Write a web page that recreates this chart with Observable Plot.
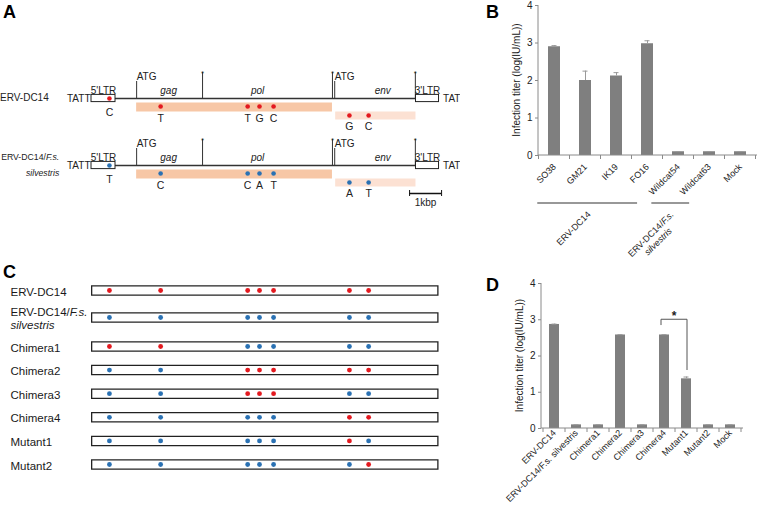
<!DOCTYPE html>
<html><head><meta charset="utf-8">
<script src="https://cdn.jsdelivr.net/npm/d3@7"></script>
<script src="https://cdn.jsdelivr.net/npm/@observablehq/plot@0.6"></script>
<style>
body{margin:0;background:#fff;}
#fig{position:relative;width:760px;height:513px;overflow:hidden;background:#fff;font-family:"Liberation Sans",Arial,sans-serif;}
.panel{position:absolute;}
.letter{position:absolute;font-weight:bold;font-size:18px;line-height:18px;color:#000;}
</style></head><body>
<div id="fig">
  <div class="panel" id="pA" style="left:0;top:0;width:460px;height:215px;overflow:hidden"></div>
  <div class="panel" id="pB" style="left:470px;top:0;width:290px;height:268px"></div>
  <div class="panel" id="pC" style="left:0;top:255px;width:460px;height:230px"></div>
  <div class="panel" id="pD" style="left:470px;top:270px;width:290px;height:243px"></div>
  <div class="letter" style="left:3px;top:3px">A</div>
  <div class="letter" style="left:486px;top:3px">B</div>
  <div class="letter" style="left:3px;top:263px">C</div>
  <div class="letter" style="left:486px;top:276px">D</div>
</div>
<script>
// ================= DATA =================
const RED = "#e3191f", BLUE = "#2a71b3";
// Panel A: genome map, positions in kbp from the start of the 5'LTR
const genomeRows = ["ERV-DC14", "ERV-DC14/F.s.\nsilvestris"];
const ltrNames = ["5'LTR", "3'LTR"];
const ltrStart = [0, 10.14];
const ltrEnd = [0.75, 10.86];
const geneNames = ["gag", "pol", "env"];
const geneStart = [1.41, 3.47, 7.60];
const geneEnd = [3.47, 7.53, 10.12];
const geneLabelKb = [2.41, 5.19, 9.10];
const geneHasATG = [true, false, true];
const orfNames = ["gag-pol", "env"];
const orfStart = [1.41, 7.63];
const orfEnd = [7.53, 10.14];
const snpKb = [0.56, 2.16, 4.88, 5.25, 5.69, 8.06, 8.66];
const snpRegion = ["LTR", "gag-pol", "gag-pol", "gag-pol", "gag-pol", "env", "env"];
const dc14Bases = ["C", "T", "T", "G", "C", "G", "C"];
const silvestrisBases = ["T", "C", "C", "A", "T", "A", "T"];
const scaleBarKb = 1;
const scaleBarLabel = "1kbp";
// Panel B
const bStrains = ["SO38", "GM21", "IK19", "FO16", "Wildcat54", "Wildcat63", "Mock"];
const bTiter = [2.90, 2.00, 2.12, 2.98, 0.10, 0.10, 0.10];
const bError = [0.03, 0.25, 0.09, 0.08, 0.004, 0.004, 0.004];
const bGroupNames = ["ERV-DC14", "ERV-DC14/F.s.\nsilvestris"];
const bGroupFirst = ["SO38", "Wildcat54"];
const bGroupLast = ["FO16", "Wildcat63"];
// Panel C
const constructs = ["ERV-DC14", "ERV-DC14/F.s.\nsilvestris", "Chimera1", "Chimera2", "Chimera3", "Chimera4", "Mutant1", "Mutant2"];
const constructOrigin = ["DDDDDDD", "SSSSSSS", "DDSSSSS", "SSDDDDD", "SSDDDSS", "SSSSSDD", "SSSSSDS", "SSSSSSD"];
// Panel D
const dConstructs = ["ERV-DC14", "ERV-DC14/F.s. silvestris", "Chimera1", "Chimera2", "Chimera3", "Chimera4", "Mutant1", "Mutant2", "Mock"];
const dTiter = [2.87, 0.10, 0.10, 2.58, 0.10, 2.58, 1.37, 0.10, 0.10];
const dError = [0.01, 0.004, 0.004, 0.01, 0.004, 0.01, 0.05, 0.004, 0.004];
const sigPair = ["Chimera4", "Mutant1"];
const sigLabel = "*";
const yLabel = "Infection titer (log(IU/mL))";

// ================= HELPERS =================
const FONT = '"Liberation Sans", Arial, sans-serif';
const ITAL = /(F\.s\.|silvestris)/;
const ctx = document.createElement("canvas").getContext("2d");
function textWidth(s, size) { ctx.font = `${size}px ${FONT}`; return ctx.measureText(s).width; }
function appendItalic(sel, str) {
  str.split(ITAL).forEach(p => {
    if (!p) return;
    const t = sel.append("tspan").text(p);
    const m = p.match(ITAL);
    if (m && m[0] === p) t.attr("font-style", "italic");
  });
}
function italicize(root) {
  root.querySelectorAll("text, tspan").forEach(el => {
    if (el.children.length) return;
    const s = el.textContent;
    if (!ITAL.test(s)) return;
    el.textContent = "";
    appendItalic(d3.select(el), s);
  });
}
const bandwidthOf = s => typeof s.bandwidth === "function" ? s.bandwidth() : (+s.bandwidth || 0);

// ================= PANEL A =================
const PXA = 1 / 67;
const rowsA = genomeRows.map((name, i) => ({name, row: i, color: i ? BLUE : RED, bases: i ? silvestrisBases : dc14Bases}));
const ltrA = rowsA.flatMap(r => ltrNames.map((n, j) => ({row: r.row, name: n, x1: ltrStart[j], x2: ltrEnd[j]})));
const orfA = rowsA.flatMap(r => orfNames.map((n, j) => ({row: r.row, name: n, x1: orfStart[j], x2: orfEnd[j]})));
const geneA = rowsA.flatMap(r => geneNames.map((n, j) => ({row: r.row, name: n, at: geneLabelKb[j]})));
const atgA = rowsA.flatMap(r => geneNames.map((n, j) => ({row: r.row, kb: geneStart[j], ok: geneHasATG[j]})).filter(d => d.ok));
const stopA = rowsA.flatMap(r => geneEnd.map(kb => ({row: r.row, kb})));
const snpA = rowsA.flatMap(r => snpKb.map((kb, j) => ({row: r.row, kb, region: snpRegion[j], base: r.bases[j], color: r.color})));
const dotDy = {"LTR": 0, "gag-pol": 8, "env": 17};
const baseDy = {"LTR": 14, "gag-pol": 20, "env": 28};
const sb = [{row: 1, x1: ltrStart[1] - 0.2, x2: ltrStart[1] - 0.2 + scaleBarKb}];
const xDomainA = [-2.844, 11.531];

const plotA = Plot.plot({
  width: 460, height: 215, margin: 0,
  style: {background: "transparent", fontFamily: FONT, color: "#222"},
  x: {domain: xDomainA, range: [0, 460], axis: null},
  y: {domain: [0, 1], range: [98, 165], axis: null},
  color: {type: "identity"},
  marks: [
    Plot.ruleY(rowsA, {y: "row", x1: () => ltrEnd[0], x2: () => ltrStart[1], stroke: "#333", strokeWidth: 1.3}),
    Plot.ruleY(orfA.filter(d => d.name === "gag-pol"), {y: "row", x1: "x1", x2: "x2", dy: 8.5, stroke: "#f7c7a6", strokeWidth: 9}),
    Plot.ruleY(orfA.filter(d => d.name === "env"), {y: "row", x1: "x1", x2: "x2", dy: 17, stroke: "#fce1d3", strokeWidth: 8}),
    Plot.ruleX(atgA, {x: "kb", y1: "row", y2: d => d.row - 17 * PXA, stroke: "#333", strokeWidth: 1}),
    Plot.ruleX(stopA, {x: "kb", y1: "row", y2: d => d.row - 26 * PXA, stroke: "#333", strokeWidth: 1}),
    Plot.rect(ltrA, {x1: "x1", x2: "x2", y1: d => d.row - 3.6 * PXA, y2: d => d.row + 3.6 * PXA, fill: "white", stroke: "#222", strokeWidth: 1}),
    Plot.dot(snpA, {x: "kb", y: d => d.row + dotDy[d.region] * PXA, r: 2.3, fill: "color", stroke: null}),
    Plot.text(snpA, {x: "kb", y: d => d.row + baseDy[d.region] * PXA, text: "base", fontSize: 10.5, fill: "#222"}),
    Plot.text(ltrA, {x: d => (d.x1 + d.x2) / 2, y: d => d.row - 8 * PXA, text: "name", fontSize: 10, fill: "#222"}),
    Plot.text(geneA, {x: "at", y: d => d.row - 8 * PXA, text: "name", fontSize: 10, fontStyle: "italic", fill: "#222"}),
    Plot.text(atgA, {x: "kb", y: d => d.row - 22 * PXA, text: () => "ATG", textAnchor: "start", fontSize: 10, fill: "#222"}),
    Plot.text(stopA, {x: "kb", y: d => d.row - 25 * PXA, text: () => "*", fontSize: 8, fill: "#222"}),
    Plot.text(rowsA, {x: () => ltrStart[0], y: "row", text: () => "TATT", textAnchor: "end", dx: -1, fontSize: 10, fill: "#222"}),
    Plot.text(rowsA, {x: () => ltrEnd[1], y: "row", text: () => "TAT", textAnchor: "start", dx: 4, fontSize: 10, fill: "#222"}),
    Plot.ruleY(sb, {y: "row", x1: "x1", x2: "x2", dy: 28, stroke: "#111", strokeWidth: 1.6}),
    Plot.ruleX(sb.flatMap(d => [{row: d.row, kb: d.x1}, {row: d.row, kb: d.x2}]), {x: "kb", y1: d => d.row + 25 * PXA, y2: d => d.row + 31 * PXA, stroke: "#111"}),
    Plot.text(sb, {x: d => (d.x1 + d.x2) / 2, y: d => d.row + 37 * PXA, text: () => scaleBarLabel, fontSize: 10, fill: "#222"}),
    (index, {x, y}) => {
      const g = d3.create("svg:g").attr("font-size", 10).attr("fill", "#222");
      const left = x(xDomainA[0]);
      g.append("text").attr("x", left).attr("y", y(0)).attr("dy", "0.32em").attr("text-anchor", "start").text(genomeRows[0]);
      const [l1, l2] = genomeRows[1].split("\n");
      const fs = 8.7;
      const right = left + 1 + textWidth(l1, fs);
      const t = g.append("text").attr("font-size", fs).attr("text-anchor", "end");
      const s1 = t.append("tspan").attr("x", right).attr("y", y(1) - 8).attr("dy", "0.32em");
      appendItalic(s1, l1);
      const s2 = t.append("tspan").attr("x", right).attr("y", y(1) + 8).attr("dy", "0.32em");
      appendItalic(s2, l2);
      return g.node();
    }
  ]
});
document.getElementById("pA").append(plotA);

// ================= PANEL B =================
const bData = bStrains.map((s, i) => ({s, v: bTiter[i], e: bError[i]}));
function axisDecor(cats) {
  return (index, {x, y}, values, dims) => {
    const g = d3.create("svg:g");
    const lines = g.append("g").attr("stroke", "#8a8a8a").attr("fill", "none");
    const bw = bandwidthOf(x);
    const c = cats.map(k => x(k) + bw / 2);
    const step = c[1] - c[0];
    const y0 = y(0);
    const xl = dims.marginLeft, xr = dims.width - dims.marginRight;
    lines.append("line").attr("x1", xl).attr("x2", xr).attr("y1", y0).attr("y2", y0);
    lines.append("line").attr("x1", xl).attr("x2", xl).attr("y1", dims.marginTop).attr("y2", y0);
    for (let k = 0; k <= cats.length; k++) {
      const xb = c[0] - step / 2 + k * step;
      lines.append("line").attr("x1", xb).attr("x2", xb).attr("y1", y0).attr("y2", y0 + 4);
    }
    g.append("text").attr("transform", `translate(${xl - 18},${(dims.marginTop + y0) / 2}) rotate(-90)`)
      .attr("text-anchor", "middle").attr("font-size", 10).attr("fill", "#222").text(yLabel);
    return g.node();
  };
}
const groupInset = [[-0.54, -0.32], [-0.86, -0.64]];
function groupDecor() {
  return (index, {x, y}) => {
    const g = d3.create("svg:g");
    const bw = bandwidthOf(x);
    const cx = k => x(k) + bw / 2;
    const step = cx(bStrains[1]) - cx(bStrains[0]);
    const ly = y(0) + 48;
    bGroupNames.forEach((name, i) => {
      const x1 = cx(bGroupFirst[i]) + groupInset[i][0] * step;
      const x2 = cx(bGroupLast[i]) + groupInset[i][1] * step;
      g.append("line").attr("x1", x1).attr("x2", x2).attr("y1", ly).attr("y2", ly).attr("stroke", "#333").attr("stroke-width", 1.2);
      const lines = name.split("\n");
      const L1 = textWidth(lines[0], 9);
      const ex = (x1 + x2) / 2 + 4, ey = ly + 12;
      const ox = ex - 0.7071 * L1 / 2, oy = ey + 0.7071 * L1 / 2;
      const t = g.append("text").attr("transform", `translate(${ox},${oy}) rotate(-45)`)
        .attr("text-anchor", "middle").attr("font-size", 9).attr("fill", "#222");
      lines.forEach((ln, j) => {
        const ts = t.append("tspan").attr("x", 0).attr("dy", j ? "1.15em" : 0);
        appendItalic(ts, ln);
      });
    });
    return g.node();
  };
}
const plotB = Plot.plot({
  width: 290, height: 268, marginLeft: 68, marginRight: 3, marginTop: 5, marginBottom: 113,
  style: {background: "transparent", fontFamily: FONT, overflow: "visible", color: "#222"},
  x: {domain: bStrains, paddingInner: 0.6, paddingOuter: 0.3},
  y: {domain: [0, 4]},
  marks: [
    Plot.barY(bData, {x: "s", y: "v", fill: "#7f7f7f"}),
    Plot.ruleX(bData, {x: "s", y1: "v", y2: d => d.v + d.e, stroke: "#9a9a9a"}),
    Plot.tickY(bData, {x: "s", y: d => d.v + d.e, stroke: "#9a9a9a", inset: 3.5}),
    axisDecor(bStrains),
    Plot.axisY({ticks: [0, 1, 2, 3, 4], tickFormat: d3.format("d"), tickSize: 3, tickPadding: 3, fontSize: 10, stroke: "#8a8a8a", fill: "#222", label: null}),
    Plot.axisX({tickSize: 0, tickRotate: -45, tickPadding: 10, fontSize: 9, fill: "#222", label: null}),
    groupDecor()
  ]
});
document.getElementById("pB").append(plotB);

// ================= PANEL C =================
// rows after the first two are evenly spaced; the first two get extra room for the two-line label
const rowPos = i => i + 0.144 * Math.min(i, 1) + (i >= 2 ? 0.229 : 0);
const cRows = constructs.map((c, i) => ({c, i}));
const cDots = constructs.flatMap((c, i) => snpKb.map((kb, j) => ({i, kb, color: constructOrigin[i][j] === "D" ? RED : BLUE})));
const plotC = Plot.plot({
  width: 460, height: 230, margin: 0,
  style: {background: "transparent", fontFamily: FONT, color: "#222"},
  x: {domain: xDomainA, range: [0, 460], axis: null},
  y: {domain: [0, rowPos(constructs.length - 1)], range: [35, 209], axis: null},
  color: {type: "identity"},
  marks: [
    Plot.ruleY(cRows, {y: d => rowPos(d.i), x1: () => ltrStart[0], x2: () => ltrEnd[1], stroke: "#222", strokeWidth: 10.5}),
    Plot.ruleY(cRows, {y: d => rowPos(d.i), x1: () => ltrStart[0], x2: () => ltrEnd[1], insetLeft: 1.3, insetRight: 1.3, stroke: "white", strokeWidth: 8}),
    Plot.dot(cDots, {x: "kb", y: d => rowPos(d.i), r: 2.4, fill: "color", stroke: null}),
    Plot.text(cRows, {y: d => rowPos(d.i), text: "c", frameAnchor: "left", textAnchor: "start", dx: 10, dy: 1, fontSize: 11.5, lineHeight: 1.1, fill: "#1a1a1a"})
  ]
});
italicize(plotC);
document.getElementById("pC").append(plotC);

// ================= PANEL D =================
const dData = dConstructs.map((s, i) => ({s, v: dTiter[i], e: dError[i]}));
const plotD = Plot.plot({
  width: 290, height: 243, marginLeft: 71, marginRight: 17, marginTop: 13, marginBottom: 85,
  style: {background: "transparent", fontFamily: FONT, overflow: "visible", color: "#222"},
  x: {domain: dConstructs, paddingInner: 0.56, paddingOuter: 0.28},
  y: {domain: [0, 4]},
  marks: [
    Plot.barY(dData, {x: "s", y: "v", fill: "#7f7f7f"}),
    Plot.ruleX(dData, {x: "s", y1: "v", y2: d => d.v + d.e, stroke: "#9a9a9a"}),
    Plot.tickY(dData, {x: "s", y: d => d.v + d.e, stroke: "#9a9a9a", inset: 2.5}),
    axisDecor(dConstructs),
    Plot.axisY({ticks: [0, 1, 2, 3, 4], tickFormat: d3.format("d"), tickSize: 3, tickPadding: 3, fontSize: 10, stroke: "#8a8a8a", fill: "#222", label: null}),
    Plot.axisX({tickSize: 0, tickRotate: -45, tickPadding: 3, fontSize: 9, fill: "#222", label: null}),
    (index, {x, y}) => {
      const g = d3.create("svg:g");
      const bw = bandwidthOf(x);
      const x1 = x(sigPair[0]) + bw / 2 - 3, x2 = x(sigPair[1]) + bw / 2 + 1;
      g.append("path").attr("d", `M${x1},${y(2.84)}V${y(3)}H${x2}V${y(1.6)}`)
        .attr("fill", "none").attr("stroke", "#555").attr("stroke-width", 1);
      g.append("text").attr("x", (x1 + x2) / 2).attr("y", y(3) + 1).attr("text-anchor", "middle")
        .attr("font-size", 12).attr("font-weight", "bold").attr("fill", "#222").text(sigLabel);
      return g.node();
    }
  ]
});
document.getElementById("pD").append(plotD);
</script>
</body></html>
